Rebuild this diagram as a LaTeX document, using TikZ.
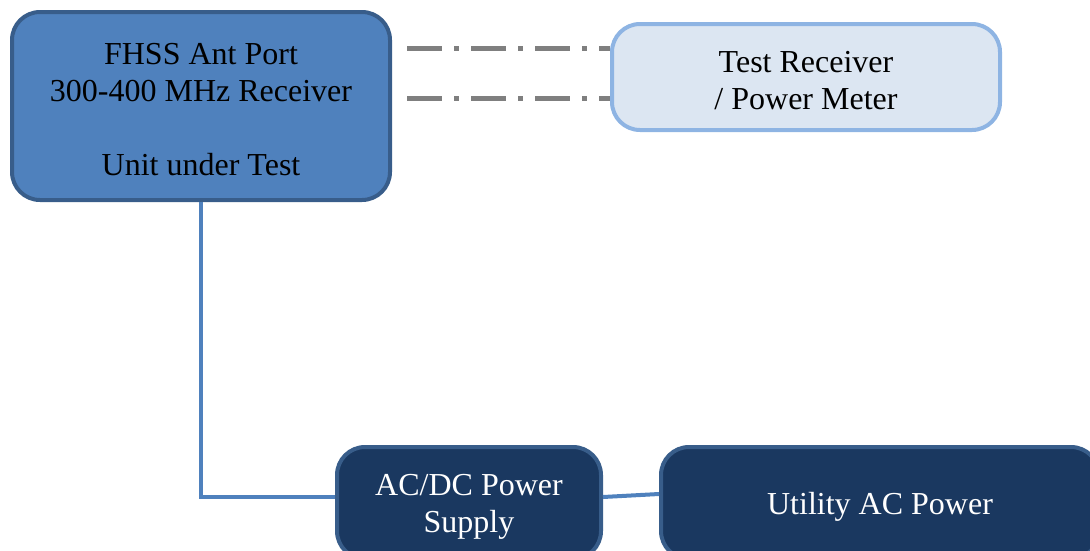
\documentclass[tikz,border=0pt]{standalone}
\usepackage{fontspec}
\setmainfont{Liberation Serif}
\definecolor{bleu}{HTML}{4F81BD}
\definecolor{bleubord}{HTML}{385D8A}
\definecolor{bleuclair}{HTML}{DCE6F2}
\definecolor{bleuclairbord}{HTML}{8EB4E3}
\definecolor{marine}{HTML}{1A3860}
\definecolor{gris}{HTML}{7F7F7F}
\newcommand{\haut}{\rule{0pt}{29pt}}% descend un peu le texte dans les boîtes
\tikzset{
	boite/.style={rounded corners=28pt,line width=4pt,align=center,inner sep=0pt,
		font=\fontsize{32}{37}\selectfont},
	uutbox/.style={boite,fill=bleu,draw=bleubord},
	meterbox/.style={boite,fill=bleuclair,draw=bleuclairbord},
	powerbox/.style={boite,fill=marine,draw=bleubord,text=white},
	liaison/.style={draw=bleu,line width=4pt},
	pointille/.style={draw=gris,line width=5pt,dash pattern=on 35pt off 12pt on 5pt off 12pt}
}
\begin{document}
\begin{tikzpicture}[x=1pt,y=-1pt]% une unité = un pixel de l'image
		\useasboundingbox (0,0) rectangle (1090,550);
		\clip (0,0) rectangle (1090,550);
		
		\node[uutbox,minimum width=378pt,minimum height=188pt] (uut) at (201,106)
			{\haut FHSS Ant Port\\300-400 MHz Receiver\\[37pt]Unit under Test};
		\node[meterbox,minimum width=388pt,minimum height=106pt] (meter) at (806,77)
			{\haut Test Receiver\\/ Power Meter};
		\node[powerbox,minimum width=264pt,minimum height=112pt] (psu) at (469,503)
			{\haut AC/DC Power\\Supply};
		\node[powerbox,minimum width=438pt,minimum height=112pt] (util) at (880,503)
			{\haut Utility AC Power};
		
		\coordinate (d1) at (407,48);
		\coordinate (d2) at (407,98);
		\draw[pointille] (d1) -- (d1 -| meter.west);
		\draw[pointille] (d2) -- (d2 -| meter.west);
		
		\draw[liaison] (uut.south) |- ([yshift=6pt]psu.west);
		\draw[liaison] ([yshift=6pt]psu.east) -- ([yshift=9pt]util.west);
	\end{tikzpicture}
\end{document}
